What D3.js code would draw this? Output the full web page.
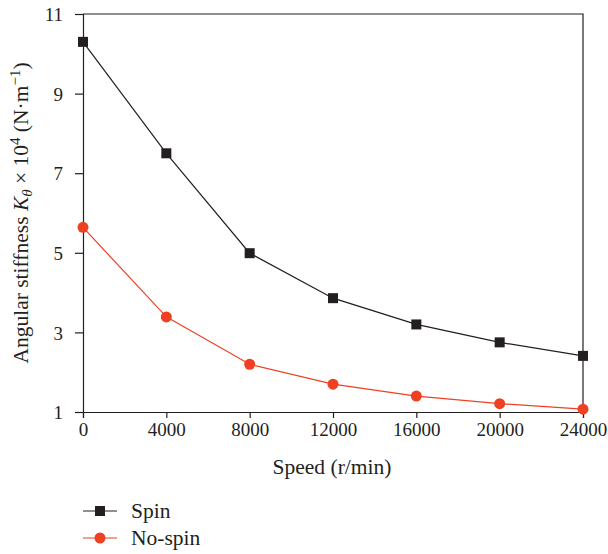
<!DOCTYPE html>
<html>
<head>
<meta charset="utf-8">
<script src="https://cdn.jsdelivr.net/npm/d3@7"></script>
<style>
  html, body { margin: 0; padding: 0; background: #fff; }
  svg text { font-family: "Liberation Serif", "DejaVu Serif", serif; fill: #231f20; }
</style>
</head>
<body>
<svg id="chart" width="608" height="554"></svg>
<script>
// Rotational speed (r/min)
const speeds = [0, 4000, 8000, 12000, 16000, 20000, 24000];
// Angular stiffness K_theta (x 10^4 N·m^-1)
const spinValues   = [10.3, 7.5, 4.99, 3.86, 3.2, 2.75, 2.41];
const noSpinValues = [5.64, 3.39, 2.2, 1.7, 1.4, 1.21, 1.07];
const xTicks = [0, 4000, 8000, 12000, 16000, 20000, 24000];
const yTicks = [1, 3, 5, 7, 9, 11];
const seriesNames = ["Spin", "No-spin"];

const ink = "#231f20";
const red = "#ee4023";

const svg = d3.select("#chart");
const m = { left: 83, right: 583, top: 14, bottom: 412 };

const x = d3.scaleLinear().domain([0, 24000]).range([m.left, m.right]);
const y = d3.scaleLinear().domain([1, 11]).range([m.bottom, m.top]);

// frame: top and right edges
svg.append("path")
  .attr("d", `M${m.left},${m.top}H${m.right}V${m.bottom}`)
  .attr("fill", "none").attr("stroke", ink).attr("stroke-width", 1.2);

const fontSize = 19;
const titleSize = 21.5;

const xAxis = svg.append("g")
  .attr("transform", `translate(0,${m.bottom})`)
  .call(d3.axisBottom(x).tickValues(xTicks).tickFormat(d3.format("d")).tickSize(6).tickPadding(5));
const yAxis = svg.append("g")
  .attr("transform", `translate(${m.left},0)`)
  .call(d3.axisLeft(y).tickValues(yTicks).tickSize(8).tickPadding(12));

[xAxis, yAxis].forEach(g => {
  g.select(".domain").attr("stroke", ink).attr("stroke-width", 1.2);
  g.selectAll(".tick line").attr("stroke", ink).attr("stroke-width", 1.2);
  g.selectAll(".tick text").attr("font-size", fontSize).attr("fill", ink)
    .style("font-family", "Liberation Serif, DejaVu Serif, serif");
});
yAxis.selectAll(".tick text").attr("dy", "0.35em");

// axis titles
svg.append("text")
  .attr("x", 332).attr("y", 474)
  .attr("text-anchor", "middle").attr("font-size", titleSize)
  .text("Speed (r/min)");

const yt = svg.append("text")
  .attr("transform", `translate(28,${(m.top + m.bottom) / 2}) rotate(-90)`)
  .attr("text-anchor", "middle").attr("font-size", titleSize);
yt.append("tspan").text("Angular stiffness ");
yt.append("tspan").attr("font-style", "italic").text("K");
yt.append("tspan").attr("font-style", "italic").attr("font-size", 15).attr("dy", 4).text("θ");
yt.append("tspan").attr("dy", -4).text(" × 10");
yt.append("tspan").attr("font-size", 15).attr("dy", -8).text("4");
yt.append("tspan").attr("dy", 8).text(" (N·m");
yt.append("tspan").attr("font-size", 15).attr("dy", -8).text("−1");
yt.append("tspan").attr("dy", 8).text(")");

const line = d3.line().x((d, i) => x(speeds[i])).y(d => y(d));

// Spin series
svg.append("path").datum(spinValues)
  .attr("d", line).attr("fill", "none").attr("stroke", ink).attr("stroke-width", 1.2);
svg.selectAll(".sq").data(spinValues).join("rect")
  .attr("x", (d, i) => x(speeds[i]) - 5).attr("y", d => y(d) - 5)
  .attr("width", 10).attr("height", 10).attr("fill", ink);

// No-spin series
svg.append("path").datum(noSpinValues)
  .attr("d", line).attr("fill", "none").attr("stroke", red).attr("stroke-width", 1.2);
svg.selectAll(".ci").data(noSpinValues).join("circle")
  .attr("cx", (d, i) => x(speeds[i])).attr("cy", d => y(d))
  .attr("r", 5.5).attr("fill", red);

// legend
const legend = svg.append("g");
const legendRows = [
  { name: seriesNames[0], color: ink, shape: "square", yPos: 511 },
  { name: seriesNames[1], color: red, shape: "circle", yPos: 538 }
];
legendRows.forEach(r => {
  legend.append("line")
    .attr("x1", 83).attr("x2", 117).attr("y1", r.yPos).attr("y2", r.yPos)
    .attr("stroke", r.color).attr("stroke-width", 1.2);
  if (r.shape === "square") {
    legend.append("rect").attr("x", 95).attr("y", r.yPos - 5)
      .attr("width", 10).attr("height", 10).attr("fill", r.color);
  } else {
    legend.append("circle").attr("cx", 100).attr("cy", r.yPos).attr("r", 5.5).attr("fill", r.color);
  }
  legend.append("text").attr("x", 131).attr("y", r.yPos + 6.5)
    .attr("font-size", titleSize).text(r.name);
});
</script>
</body>
</html>
